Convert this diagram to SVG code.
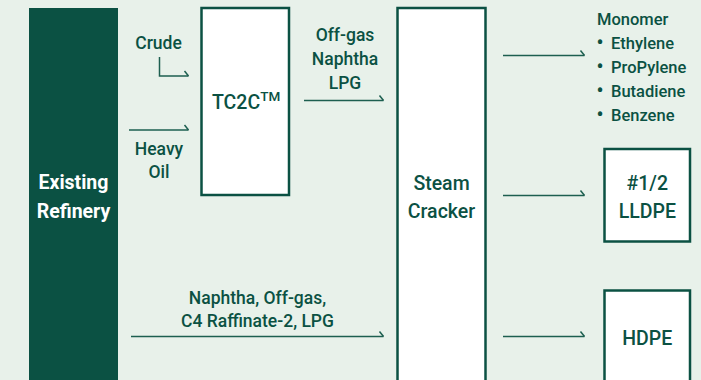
<svg xmlns="http://www.w3.org/2000/svg" width="701" height="380" viewBox="0 0 701 380">
<defs>
<style>
.lbl{font-family:Roboto,"Liberation Sans",sans-serif;fill:#0b5143;font-size:17.5px;font-weight:500}
.big{font-family:Roboto,"Liberation Sans",sans-serif;fill:#0b5143;font-size:19.5px;font-weight:500}
.mono{font-family:Roboto,"Liberation Sans",sans-serif;fill:#0b5143;font-size:16.5px;font-weight:500}
.box{fill:#ffffff;stroke:#0b5143;stroke-width:2.5}
.conn{fill:none;stroke:#1d5f50;stroke-width:1.5}
</style>
<marker id="half" markerUnits="userSpaceOnUse" markerWidth="10" markerHeight="10" refX="0" refY="0" orient="auto" overflow="visible">
<path d="M-4,-5 L0,0" fill="none" stroke="#1d5f50" stroke-width="1.5"/>
</marker>
</defs>
<rect x="0" y="0" width="701" height="380" fill="#e8f1ea"/>
<g id="refinery">
<rect x="29" y="8" width="89" height="380" fill="#0b5143"/>
<text x="73.5" y="189" text-anchor="middle" style="font-family:Roboto,'Liberation Sans',sans-serif;font-weight:bold;font-size:19.5px;fill:#ffffff">Existing</text>
<text x="73.5" y="218" text-anchor="middle" style="font-family:Roboto,'Liberation Sans',sans-serif;font-weight:bold;font-size:19.5px;fill:#ffffff">Refinery</text>
</g>
<g id="tc2c">
<rect class="box" x="201.5" y="8" width="87.5" height="187"/>
<text class="big" x="212" y="109">TC2C<tspan font-size="13.5px" dy="-8">TM</tspan></text>
</g>
<g id="cracker">
<rect class="box" x="397.5" y="8" width="88" height="380"/>
<text class="big" x="441.5" y="190" text-anchor="middle">Steam</text>
<text class="big" x="441.5" y="217.5" text-anchor="middle">Cracker</text>
</g>
<g id="monomer">
<text class="mono" x="597" y="25">Monomer</text>
<text class="mono" y="49"><tspan x="596.5" font-size="20px">•</tspan><tspan x="611">Ethylene</tspan></text>
<text class="mono" y="73"><tspan x="596.5" font-size="20px">•</tspan><tspan x="611">ProPylene</tspan></text>
<text class="mono" y="97"><tspan x="596.5" font-size="20px">•</tspan><tspan x="611">Butadiene</tspan></text>
<text class="mono" y="121"><tspan x="596.5" font-size="20px">•</tspan><tspan x="611">Benzene</tspan></text>
</g>
<g id="lldpe">
<rect class="box" x="604.5" y="149" width="85.5" height="92.5"/>
<text class="big" x="647.3" y="190" text-anchor="middle">#1/2</text>
<text class="big" x="647.3" y="218" text-anchor="middle">LLDPE</text>
</g>
<g id="hdpe">
<rect class="box" x="604.5" y="290.5" width="85.5" height="100"/>
<text class="big" x="647.3" y="345" text-anchor="middle">HDPE</text>
</g>
<g id="connectors">
<path class="conn" d="M159.5,57 V76 H188.5" marker-end="url(#half)"/>
<path class="conn" d="M129,130 H188.5" marker-end="url(#half)"/>
<path class="conn" d="M304,100.5 H383.5" marker-end="url(#half)"/>
<path class="conn" d="M131,336.5 H383.5" marker-end="url(#half)"/>
<path class="conn" d="M503,55.5 H584.5" marker-end="url(#half)"/>
<path class="conn" d="M503,195.5 H584.5" marker-end="url(#half)"/>
<path class="conn" d="M503,336.5 H584.5" marker-end="url(#half)"/>
</g>
<g id="labels">
<text class="lbl" x="158.5" y="49" text-anchor="middle">Crude</text>
<text class="lbl" x="159" y="155" text-anchor="middle">Heavy</text>
<text class="lbl" x="159" y="178" text-anchor="middle">Oil</text>
<text class="lbl" x="345" y="41" text-anchor="middle">Off-gas</text>
<text class="lbl" x="345" y="65" text-anchor="middle">Naphtha</text>
<text class="lbl" x="345" y="89" text-anchor="middle">LPG</text>
<text class="lbl" x="257.5" y="304" text-anchor="middle">Naphtha, Off-gas,</text>
<text class="lbl" x="257.5" y="327" text-anchor="middle">C4 Raffinate-2, LPG</text>
</g>
</svg>
